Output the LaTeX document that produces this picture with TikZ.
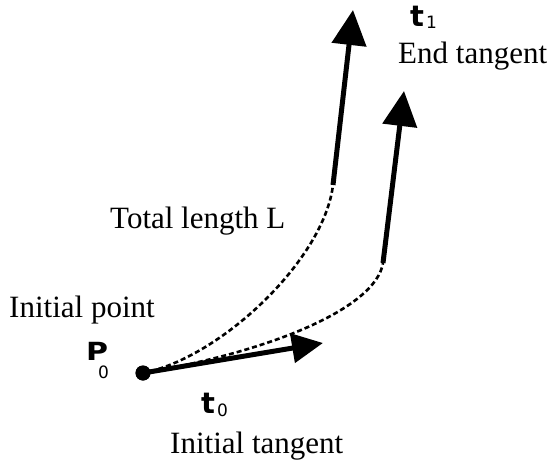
\documentclass[tikz,border=0pt]{standalone}
\usepackage{fontspec}
\setmainfont{Liberation Serif}
\newfontfamily\symfont{DejaVu Sans}
\usetikzlibrary{arrows.meta}
\begin{document}
\begin{tikzpicture}[x=1pt,y=-1pt,
  lbl/.style={inner sep=0pt,anchor=base west,font=\fontsize{31}{31}\selectfont},
  vec/.style={line width=5pt},
  bighead/.style={-{Triangle[length=35pt,width=34pt]}},
  smallhead/.style={-{Triangle[length=31pt,width=29pt]}},
  dashcurve/.style={line width=2.6pt,dash pattern=on 5pt off 3pt},
  sym/.style={inner sep=0pt,anchor=base west,font=\symfont\bfseries\fontsize{29}{29}\selectfont},
  subs/.style={inner sep=0pt,anchor=base west,font=\symfont\fontsize{17}{17}\selectfont}]
\useasboundingbox (0,0) rectangle (552,463);
% points
\coordinate (e1) at (333,185);
\coordinate (h1) at (353,10);
\coordinate (e2) at (383,263);
\coordinate (h2) at (404,91);
\coordinate (t0tip) at (323,343);
\node[circle,fill=black,inner sep=0pt,minimum size=15pt] (p0) at (143,373) {};
% dashed curves
\draw[dashcurve] (p0.center) .. controls (220,358) and (324,260) .. (e1);
\draw[dashcurve] (p0.center) .. controls (270,352) and (376,308) .. (e2);
% tangent vectors
\draw[vec,bighead] (e1) -- (h1);
\draw[vec,bighead] (e2) -- (h2);
\draw[vec,smallhead] (p0.center) -- (t0tip);
\node[circle,fill=black,inner sep=0pt,minimum size=15pt] at (p0) {};
% labels
\node[lbl] (ip) at (9,317) {Initial point};
\node[lbl] (tl) at (110,228) {Total length L};
\node[lbl] (et) at (398,63) {End tangent};
\node[lbl] (it) at (170,453) {Initial tangent};
% symbols
\node[sym] (t1) at (410,27) {t};
\node[subs] (t1s) at (426,28) {1};
\node[sym] (t0) at (201,413) {t};
\node[subs] (t0s) at (217,416) {0};
\node[sym,font=\symfont\bfseries\fontsize{25}{25}\selectfont] (P) at (86,360) {\scalebox{1.2}[1]{P}};
\node[subs] (Ps) at (98,378) {0};
\end{tikzpicture}
\end{document}
